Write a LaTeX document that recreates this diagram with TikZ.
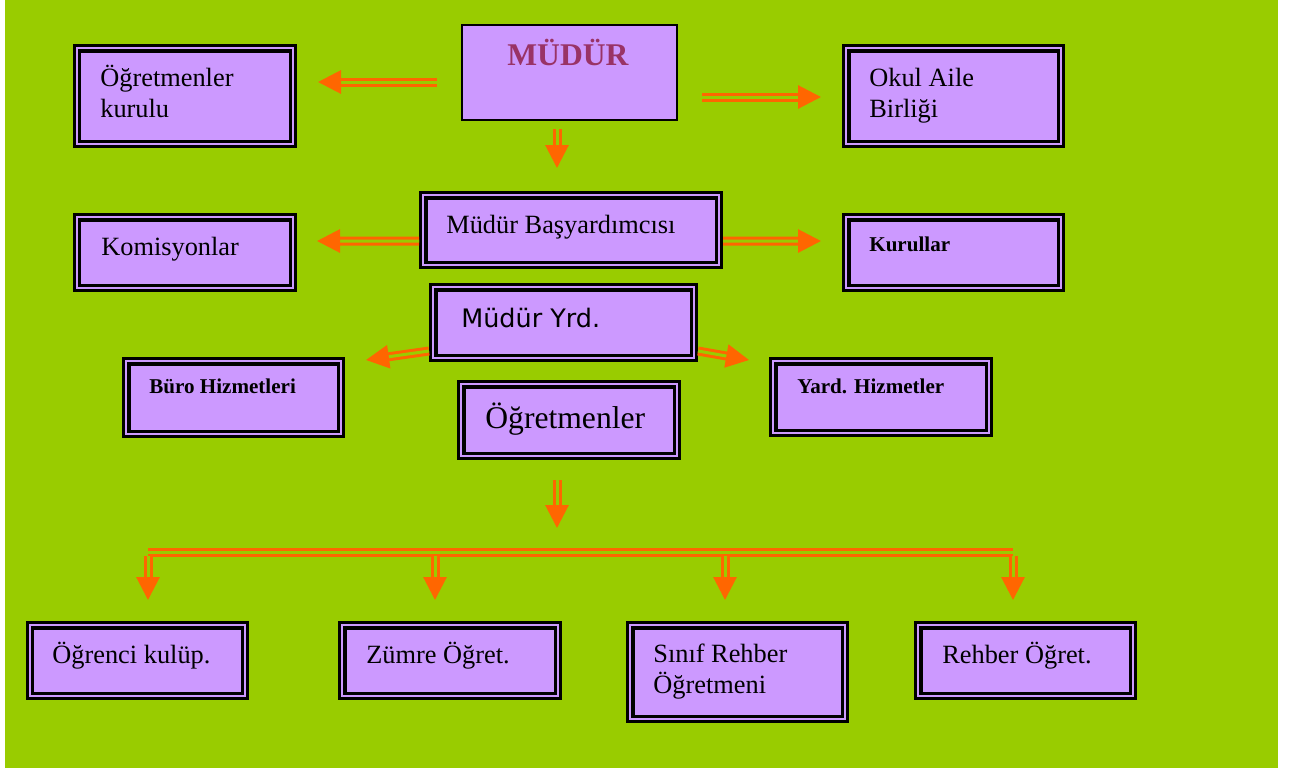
\documentclass[tikz,border=0pt]{standalone}
\usepackage{fontspec}
\setmainfont{Liberation Serif}
\newfontfamily\yrdfont{DejaVu Sans}
\usetikzlibrary{arrows.meta,calc,fit}
\definecolor{yesil}{HTML}{99CC00}
\definecolor{mor}{HTML}{CC99FF}
\definecolor{turuncu}{HTML}{FF6600}
\definecolor{bordo}{HTML}{993366}
\tikzset{
  kutu/.style={draw=black, fill=mor, double=mor, double distance=0.04cm,
    line width=0.065cm, inner sep=-0.085cm, outer sep=0.085cm},
  tekkutu/.style={draw=black, fill=mor, line width=0.045cm,
    inner sep=-0.022cm, outer sep=0.022cm},
  yazi/.style={inner sep=0, anchor=base west, align=left,
    font=\fontsize{15}{17.6}\selectfont},
  hat/.style={draw=turuncu, double=yesil, double distance=0.06cm, line width=0.06cm},
  ok/.style={hat, -{Triangle[length=0.46cm, width=0.46cm]}}
}
\newcommand{\kutu}[6][]{
\node[kutu, fit={(#3) (#4)}] (#2) {};
\node[yazi, #1] (#2-y) at (#5) {#6};}

\begin{document}
\begin{tikzpicture}[x=0.02cm, y=-0.02cm]
\useasboundingbox (0,0) rectangle (1291,769);
\fill[white] (0,0) rectangle (1291,769);
\fill[yesil] (5,0) rectangle (1278,768);

% ust sira
\node[tekkutu, fit={(461,24) (678,121)}] (mudur) {};
\node[yazi, font=\fontsize{18}{21}\selectfont\bfseries, text=bordo] (mudur-y) at (507,65) {MÜDÜR};
\kutu{kurulu}{73,44}{297,148}{100,117}{Öğretmenler\\kurulu}
\kutu{aile}{842,44}{1065,148}{869,117}{Okul Aile\\Birliği}

% orta
\kutu{basyrd}{419,191}{723,269}{446,233}{Müdür Başyardımcısı}
\kutu{komisyon}{73,213}{297,292}{101,255}{Komisyonlar}
\kutu[font=\fontsize{12}{14}\selectfont\bfseries]{kurullar}{842,213}{1065,292}{869,251}{Kurullar}
\kutu[font=\fontsize{14.5}{17}\selectfont\yrdfont]{yrd}{429,283}{698,362}{461,327}{Müdür Yrd.}
\kutu[font=\fontsize{12}{14}\selectfont\bfseries]{buro}{122,357}{345,438}{149,393}{Büro Hizmetleri}
\kutu[font=\fontsize{12}{14}\selectfont\bfseries]{yard}{769,357}{993,437}{797,393}{Yard. Hizmetler}
\kutu[font=\fontsize{18}{21}\selectfont]{ogretmen}{457,380}{681,460}{485,428}{Öğretmenler}

% alt sira
\kutu{kulup}{26,621}{249,700}{52,663}{Öğrenci kulüp.}
\kutu{zumre}{338,621}{562,700}{366,663}{Zümre Öğret.}
\kutu{sinif}{626,621}{849,723}{653,693}{Sınıf Rehber\\Öğretmeni}
\kutu{rehber}{914,621}{1137,700}{942,663}{Rehber Öğret.}

% oklar
\draw[ok] ($(mudur.west)+(-24,9.5)$) -- ($(kurulu.east)+(21,-14)$);
\draw[ok] ($(mudur.east)+(24,24.5)$) -- ($(aile.west)+(-21,1)$);
\draw[ok] ($(mudur.south)+(-12.5,8)$) -- ($(basyrd.north)+(-14,-23)$);
\draw[ok] ($(basyrd.west)+(0,11)$) -- ($(komisyon.east)+(20,-11.5)$);
\draw[ok] ($(basyrd.east)+(0,11)$) -- ($(kurullar.west)+(-21,-11.5)$);
\draw[ok] ($(yrd.west)+(0,28.5)$) -- ($(buro.north east)+(21,3)$);
\draw[ok] ($(yrd.east)+(0,28.5)$) -- ($(yard.north west)+(-20,3)$);

% dagitim hatti
\coordinate (bm) at (557,552);
\coordinate (bl) at (148,552);
\coordinate (br) at (1013,552);
\coordinate (b1) at (148,556);
\coordinate (b2) at (435,556);
\coordinate (b3) at (725,556);
\coordinate (b4) at (1013,556);
\draw[ok, shorten <=0.4cm, shorten >=0.48cm] (ogretmen.south -| bm) -- (bm);
\draw[hat] (bl) -- (br);
\foreach \i/\n in {1/kulup,2/zumre,3/sinif,4/rehber}{
  \draw[ok, shorten >=0.42cm] (b\i) -- (b\i |- \n.north);
}

\end{tikzpicture}
\end{document}
